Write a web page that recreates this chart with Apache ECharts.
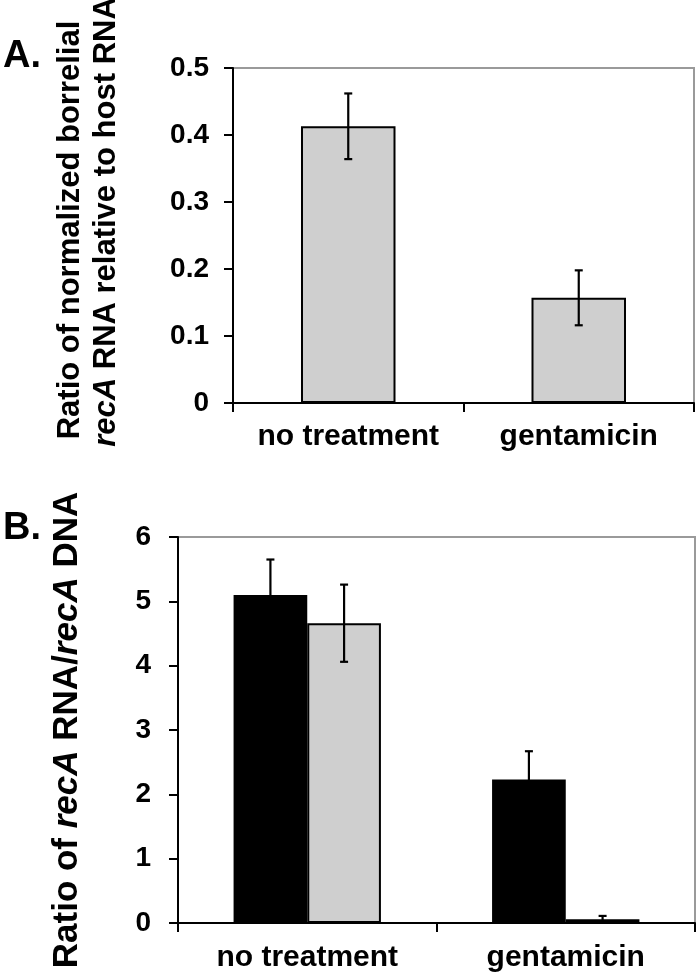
<!DOCTYPE html>
<html>
<head>
<meta charset="utf-8">
<script src="https://cdn.jsdelivr.net/npm/echarts@6/dist/echarts.min.js"></script>
<style>
html,body{margin:0;padding:0;background:#fff;}
#chart{width:700px;height:977px;}
</style>
</head>
<body>
<div id="chart"></div>
<script>
// ---- data ----
const categories = ['no treatment', 'gentamicin'];
const panelAValues = [0.413, 0.157];
const panelAErrors = [0.049, 0.041];
const panelBBlackValues = [5.10, 2.23];
const panelBBlackErrors = [0.55, 0.44];
const panelBGrayValues = [4.66, 0.06];
const panelBGrayErrors = [0.60, 0.05];
const panelATicks = { min: 0, max: 0.5, interval: 0.1 };
const panelBTicks = { min: 0, max: 6, interval: 1 };
const panelATitle1 = 'Ratio of normalized borrelial';
const panelATitle2Italic = 'recA';
const panelATitle2Rest = ' RNA relative to host RNA';

const FONT = '"Liberation Sans", Arial, Helvetica, sans-serif';
const GRAY = '#cfcfcf';

function errorData(values, errors) {
  return values.map((v, i) => [i, v, errors[i]]);
}

function makeErrorRender(offsetFactor) {
  return function (params, api) {
    const idx = api.value(0), v = api.value(1), e = api.value(2);
    const catW = api.size([1, 0])[0];
    const hi = api.coord([idx, v + e]);
    const lo = api.coord([idx, Math.max(v - e, 0)]);
    const x = hi[0] + offsetFactor * catW;
    const cap = 4;
    const style = { stroke: '#000', lineWidth: 2.2, fill: null };
    return {
      type: 'group',
      children: [
        { type: 'line', shape: { x1: x, y1: hi[1], x2: x, y2: lo[1] }, style: style },
        { type: 'line', shape: { x1: x - cap, y1: hi[1], x2: x + cap, y2: hi[1] }, style: style },
        { type: 'line', shape: { x1: x - cap, y1: lo[1], x2: x + cap, y2: lo[1] }, style: style }
      ]
    };
  };
}

const chart = echarts.init(document.getElementById('chart'), null, { renderer: 'canvas' });

const commonY = {
  type: 'value',
  splitLine: { show: false },
  axisLine: { show: true, lineStyle: { color: '#000', width: 2 } },
  axisTick: { show: true, length: 9, lineStyle: { color: '#000', width: 2 } },
  nameLocation: 'middle',
  nameRotate: 90
};
const commonX = {
  type: 'category',
  data: categories,
  axisLine: { show: true, lineStyle: { color: '#000', width: 2 } },
  axisTick: { show: true, length: 9, alignWithLabel: false, interval: 0, lineStyle: { color: '#000', width: 2 } },
  axisLabel: { color: '#000', fontFamily: FONT, fontWeight: 'bold', fontSize: 30, interval: 0, hideOverlap: false }
};

const BCAT_GAP = 0.43;
const richTitle = (size) => ({
  a: { color: '#000', fontFamily: FONT, fontWeight: 'bold', fontSize: size },
  i: { color: '#000', fontFamily: FONT, fontWeight: 'bold', fontStyle: 'italic', fontSize: size }
});

chart.setOption({
  animation: false,
  backgroundColor: '#fff',
  textStyle: { fontFamily: FONT },
  grid: [
    { left: 233, top: 68, width: 461, height: 335, show: true, borderColor: '#9a9a9a', borderWidth: 2, backgroundColor: 'transparent' },
    { left: 178, top: 537, width: 517, height: 386, show: true, borderColor: '#9a9a9a', borderWidth: 2, backgroundColor: 'transparent' }
  ],
  xAxis: [
    Object.assign({}, commonX, { gridIndex: 0, axisLabel: Object.assign({}, commonX.axisLabel, { margin: 19 }) }),
    Object.assign({}, commonX, { gridIndex: 1, axisLabel: Object.assign({}, commonX.axisLabel, { margin: 20 }) })
  ],
  yAxis: [
    Object.assign({}, commonY, {
      gridIndex: 0,
      min: panelATicks.min, max: panelATicks.max, interval: panelATicks.interval,
      axisLabel: { color: '#000', fontFamily: FONT, fontWeight: 'bold', fontSize: 28, margin: 24 }
    }),
    Object.assign({}, commonY, {
      gridIndex: 1,
      min: panelBTicks.min, max: panelBTicks.max, interval: panelBTicks.interval,
      axisLabel: { color: '#000', fontFamily: FONT, fontWeight: 'bold', fontSize: 28, margin: 27 },
      name: '{a|Ratio of }{i|recA}{a| RNA/}{i|recA}{a| DNA}',
      nameGap: 93,
      nameTextStyle: {
        color: '#000', fontFamily: FONT, fontWeight: 'bold', fontSize: 35,
        rich: richTitle(35)
      }
    })
  ],
  series: [
    {
      type: 'bar', xAxisIndex: 0, yAxisIndex: 0,
      data: panelAValues, barWidth: '41%',
      itemStyle: { color: GRAY, borderColor: '#000', borderWidth: 2 }, z: 2
    },
    {
      type: 'custom', xAxisIndex: 0, yAxisIndex: 0,
      data: errorData(panelAValues, panelAErrors),
      renderItem: makeErrorRender(0), z: 5
    },
    {
      type: 'bar', xAxisIndex: 1, yAxisIndex: 1,
      data: panelBBlackValues, barGap: '0%', barCategoryGap: (BCAT_GAP * 100) + '%',
      itemStyle: { color: '#000', borderColor: '#000', borderWidth: 2 }, z: 2
    },
    {
      type: 'bar', xAxisIndex: 1, yAxisIndex: 1,
      data: panelBGrayValues, barGap: '0%', barCategoryGap: (BCAT_GAP * 100) + '%',
      itemStyle: { color: GRAY, borderColor: '#000', borderWidth: 2 }, z: 2
    },
    {
      type: 'custom', xAxisIndex: 1, yAxisIndex: 1,
      data: errorData(panelBBlackValues, panelBBlackErrors),
      renderItem: makeErrorRender(-(1 - BCAT_GAP) / 4), z: 5
    },
    {
      type: 'custom', xAxisIndex: 1, yAxisIndex: 1,
      data: errorData(panelBGrayValues, panelBGrayErrors),
      renderItem: makeErrorRender((1 - BCAT_GAP) / 4), z: 5
    }
  ],
  graphic: [
    { type: 'text', left: 3, top: 38, style: { text: 'A.', fill: '#000', font: 'bold 38px ' + FONT } },
    { type: 'text', left: 3, top: 510, style: { text: 'B.', fill: '#000', font: 'bold 38px ' + FONT } },
    {
      type: 'text', x: 70, y: 230, rotation: Math.PI / 2,
      style: {
        text: '{a|' + panelATitle1 + '}',
        rich: richTitle(31), textAlign: 'center', textVerticalAlign: 'middle'
      }
    },
    {
      type: 'text', x: 106, y: 222, rotation: Math.PI / 2,
      style: {
        text: '{i|' + panelATitle2Italic + '}{a|' + panelATitle2Rest + '}',
        rich: richTitle(31), textAlign: 'center', textVerticalAlign: 'middle'
      }
    }
  ]
});
</script>
</body>
</html>
